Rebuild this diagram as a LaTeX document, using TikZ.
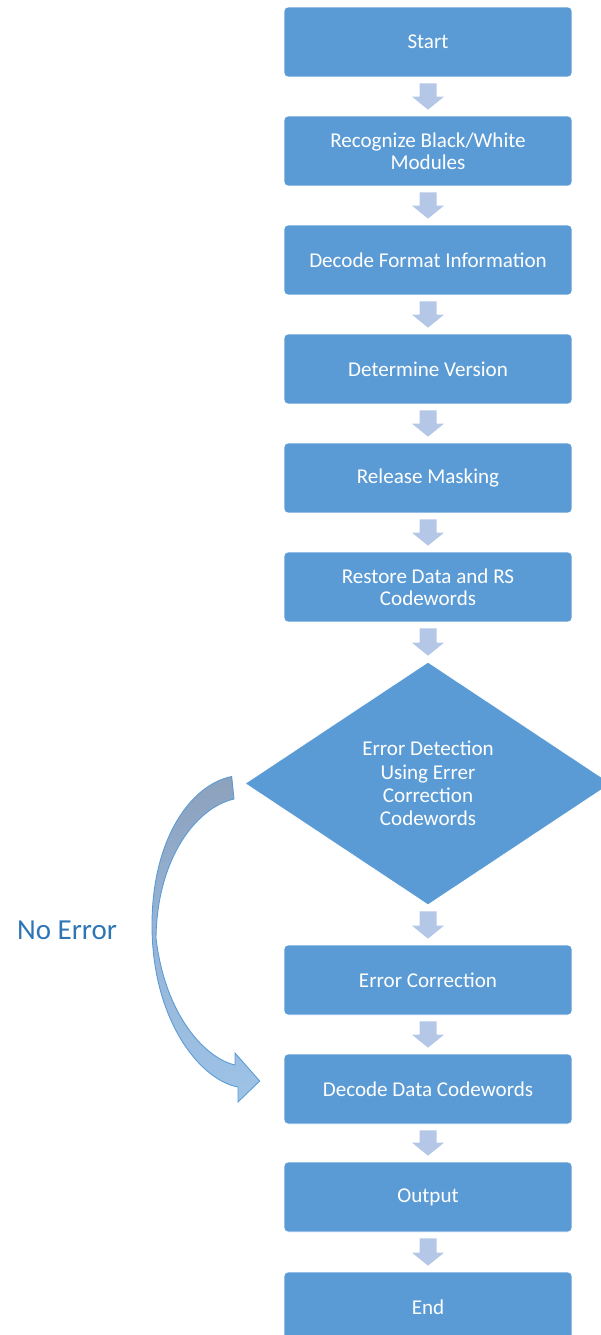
\documentclass[tikz,border=0pt]{standalone}
\usepackage{fontspec}
\setmainfont{Carlito}
\usetikzlibrary{shapes.geometric,calc}
\definecolor{boxblue}{HTML}{5B9BD5}
\definecolor{arrowblue}{HTML}{B4C7E7}
\definecolor{labelblue}{HTML}{2E75B6}
\definecolor{curvetop}{HTML}{8CA1BC}
\definecolor{curvemid}{HTML}{97B5D8}
\definecolor{curvebot}{HTML}{9DC3E6}
\definecolor{curveline}{HTML}{5B9BD5}
\newcommand{\flowarr}[2]{%
  \fill[arrowblue] let \p1=(#1.south), \p2=(#2.north) in
    (\x1-0.17cm,\y1-0.12cm) -- (\x1+0.17cm,\y1-0.12cm) -- (\x1+0.17cm,\y2+0.38cm)
    -- (\x1+0.32cm,\y2+0.38cm) -- (\x1,\y2+0.12cm) -- (\x1-0.32cm,\y2+0.38cm)
    -- (\x1-0.17cm,\y2+0.38cm) -- cycle;}
\begin{document}
\begin{tikzpicture}[x=0.02cm,y=-0.02cm,
  stepbox/.style={rectangle, rounded corners=0.08cm, fill=boxblue, draw=white,
    line width=0.4pt, minimum width=5.76cm, minimum height=1.4cm, text=white,
    font=\fontsize{12}{12.6}\selectfont, align=center, inner sep=0pt},
  decision/.style={diamond, fill=boxblue, draw=white, line width=0.4pt,
    minimum width=7.32cm, minimum height=4.86cm, text=white,
    font=\fontsize{12}{13.3}\selectfont, align=center, inner sep=0pt},
  labeltext/.style={text=labelblue, font=\fontsize{16.5}{18}\selectfont}]
\useasboundingbox (0,0) rectangle (601,1335);
\node[stepbox] (start) at (428,42) {Start};
\node[stepbox] (recog) at (428,151) {Recognize Black/White\\Modules};
\node[stepbox] (format) at (428,260) {Decode Format Information};
\node[stepbox] (version) at (428,369) {Determine Version};
\node[stepbox] (mask) at (428,478) {Release Masking};
\node[stepbox] (restore) at (428,587) {Restore Data and RS\\Codewords};
\node[decision] (dia) at (428,783.5) {Error Detection\\Using Errer\\Correction\\Codewords};
\node[stepbox] (corr) at (428,980) {Error Correction};
\node[stepbox] (dec) at (428,1089) {Decode Data Codewords};
\node[stepbox] (out) at (428,1197) {Output};
\node[stepbox] (end) at (428,1307) {End};
\flowarr{start}{recog}
\flowarr{recog}{format}
\flowarr{format}{version}
\flowarr{version}{mask}
\flowarr{mask}{restore}
\flowarr{restore}{dia}
\flowarr{dia}{corr}
\flowarr{corr}{dec}
\flowarr{dec}{out}
\flowarr{out}{end}
\coordinate (cstart) at ($(dia.west)+(-13,-7)$);
\coordinate (ctip) at ($(dec.west)+(-24,-8)$);
\shade[top color=curvetop, bottom color=curvebot, middle color=curvemid,
  draw=curveline, line width=0.5pt]
  (cstart) .. controls (190,785) and (152,840) .. (152,925)
  .. controls (152,1020) and (200,1080) .. (238,1087)
  -- (238,1102) -- (ctip) -- (235,1053) -- (235,1065)
  .. controls (205,1058) and (165,1015) .. (156,938)
  .. controls (157,860) and (195,808) .. (234,799) -- cycle;
\node[labeltext] (noerr) at (67,930) {No Error};
\end{tikzpicture}
\end{document}
